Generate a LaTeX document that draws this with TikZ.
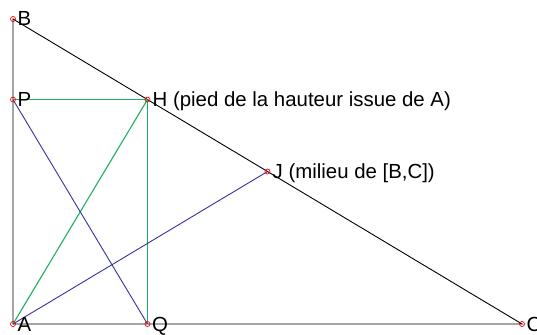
\documentclass[tikz,border=0pt]{standalone}
\usepackage{fontspec}
\setmainfont{Liberation Sans}
\usetikzlibrary{calc}

\definecolor{segGreen}{RGB}{30,175,100}
\definecolor{segBlue}{RGB}{50,50,160}

\begin{document}
\begin{tikzpicture}[
  x=1pt, y=-1pt,
  pt/.style  = {draw=red, line width=0.7pt, circle, inner sep=0pt, minimum size=5pt},
  lbl/.style = {anchor=base west, inner sep=0pt, font=\fontsize{20.4}{24}\selectfont},
  side/.style = {draw=black, line width=0.9pt},
  grn/.style = {draw=segGreen, line width=1.1pt},
  blu/.style = {draw=segBlue, line width=0.9pt},
]
  \useasboundingbox (0,0) rectangle (537,334);

  % triangle, right angle at A
  \coordinate (A) at (13,324);
  \coordinate (B) at (13,19);
  \coordinate (C) at (522,324);
  \coordinate (H) at ($(B)!(A)!(C)$);
  \coordinate (J) at ($(B)!0.5!(C)$);
  \coordinate (P) at (A |- H);
  \coordinate (Q) at (H |- A);

  \draw[side] (A) -- (B) -- (C) -- cycle;

  % rectangle APHQ and its diagonals
  \draw[grn] (P) -- (H);
  \draw[grn] (H) -- (Q);
  \draw[grn] (A) -- (H);
  \draw[blu] (P) -- (Q);
  \draw[blu] (A) -- (J);

  % points
  \foreach \p in {A,B,C,H,J,P,Q}
    \node[pt] (n\p) at (\p) {};

  \node[lbl] (lA) at ($(A)+(4.5,7.5)$) {A};
  \node[lbl] (lB) at ($(B)+(4.5,7)$) {B};
  \node[lbl] (lC) at ($(C)+(4.5,7.5)$) {C};
  \node[lbl] (lP) at ($(P)+(4.5,7)$) {P};
  \node[lbl] (lQ) at ($(Q)+(4.5,7.5)$) {Q};
  \node[lbl] (lH) at ($(H)+(5,7)$) {H (pied de la hauteur issue de A)};
  \node[lbl] (lJ) at ($(J)+(5,7)$) {J (milieu de [B,C])};
\end{tikzpicture}
\end{document}
